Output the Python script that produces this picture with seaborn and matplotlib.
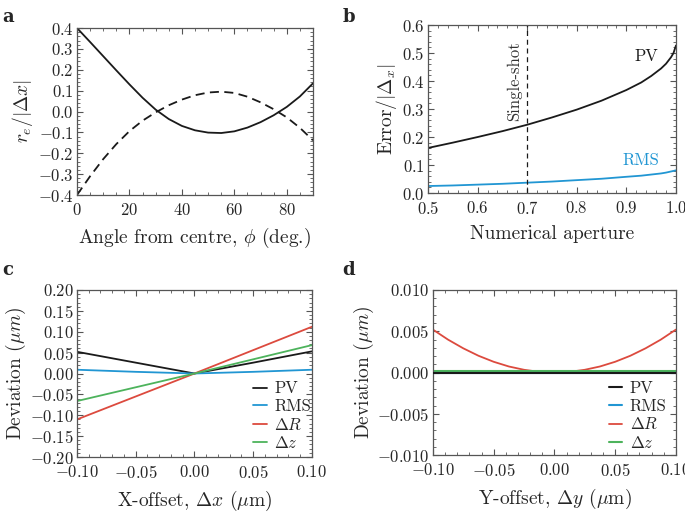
import matplotlib
matplotlib.use("Agg")
import matplotlib.pyplot as plt
from matplotlib.ticker import AutoMinorLocator, FuncFormatter
import numpy as np
import seaborn as sns

# panel a: r_e/|dx| vs angle
angle = [0, 5, 10, 15, 20, 25, 30, 35, 40, 45, 50, 55, 60, 65, 70, 75, 80, 85, 90]
re_solid = [0.40, 0.333, 0.265, 0.197, 0.130, 0.066, 0.009, -0.036, -0.069, -0.090,
            -0.101, -0.103, -0.095, -0.077, -0.051, -0.018, 0.022, 0.072, 0.135]
re_dashed = [-0.400, -0.310, -0.228, -0.156, -0.094, -0.044, -0.004, 0.030, 0.057, 0.078,
             0.091, 0.095, 0.089, 0.071, 0.044, 0.011, -0.028, -0.078, -0.138]

# panel b: error vs numerical aperture
na = [0.5, 0.55, 0.6, 0.65, 0.7, 0.75, 0.8, 0.85, 0.9, 0.93, 0.95, 0.97, 0.98, 0.99, 0.995, 1.0]
pv_na = [0.161, 0.180, 0.200, 0.221, 0.244, 0.270, 0.298, 0.330, 0.368, 0.395, 0.418,
         0.445, 0.462, 0.485, 0.500, 0.527]
rms_na = [0.025, 0.027, 0.030, 0.033, 0.037, 0.041, 0.046, 0.051, 0.058, 0.062, 0.066,
          0.070, 0.073, 0.077, 0.079, 0.081]

# panel c: x-offset
xoff = [-0.1, -0.05, 0.0, 0.05, 0.1]
pv_x = [0.052, 0.026, 0.0, 0.026, 0.053]
rms_x = [0.009, 0.004, 0.0, 0.004, 0.009]
dR_x = [-0.110, -0.055, 0.0, 0.056, 0.112]
dz_x = [-0.066, -0.033, 0.0, 0.034, 0.068]

# panel d: y-offset
yoff = [-0.1, -0.0875, -0.075, -0.0625, -0.05, -0.0375, -0.025, -0.0125, 0.0,
        0.0125, 0.025, 0.0375, 0.05, 0.0625, 0.075, 0.0875, 0.1]
pv_y = [0.0] * 17
rms_y = [-0.0001] * 17
dR_y = [0.0052, 0.00398, 0.00293, 0.00203, 0.0013, 0.00073, 0.00033, 0.00008, 0.0,
        0.00008, 0.00033, 0.00073, 0.0013, 0.00203, 0.00293, 0.00398, 0.0052]
dz_y = [0.0002] * 17

black = "#1a1a1a"
blue = "#2196d3"
red = "#dc4a3e"
green = "#4db35c"

sns.set_style("ticks")
plt.rcParams["font.family"] = "serif"
plt.rcParams["font.serif"] = ["cmr10", "DejaVu Serif"]
plt.rcParams["mathtext.fontset"] = "cm"

fig = plt.figure(figsize=(6.85, 5.12), dpi=100)
ax_a = fig.add_axes([0.1124, 0.6191, 0.3445, 0.3262])
ax_b = fig.add_axes([0.6248, 0.6230, 0.3620, 0.3280])
ax_c = fig.add_axes([0.1124, 0.1074, 0.3430, 0.3262])
ax_d = fig.add_axes([0.6320, 0.1113, 0.3547, 0.3223])

def fmt(nd):
    def f(v, pos):
        s = ("%." + str(nd) + "f") % v
        if s.startswith("-") and float(s) == 0:
            s = s[1:]
        return "$" + s + "$"
    return FuncFormatter(f)

def style(ax, xd, yd):
    for s in ax.spines.values():
        s.set_color("#555555")
        s.set_linewidth(0.9)
    ax.xaxis.set_major_formatter(fmt(xd))
    ax.yaxis.set_major_formatter(fmt(yd))
    ax.xaxis.set_minor_locator(AutoMinorLocator())
    ax.yaxis.set_minor_locator(AutoMinorLocator())
    ax.tick_params(which="both", direction="in", top=True, right=True, color="#555555",
                   labelsize=12)
    ax.tick_params(axis="y", pad=2.5)
    ax.tick_params(axis="x", pad=5)
    ax.tick_params(which="major", length=4, width=0.8)
    ax.tick_params(which="minor", length=2, width=0.6)

# a
sns.lineplot(x=angle, y=re_solid, ax=ax_a, color=black, lw=1.3)
sns.lineplot(x=angle, y=re_dashed, ax=ax_a, color=black, lw=1.3, linestyle=(0, (5, 3)))
ax_a.set_xlim(0, 90)
ax_a.set_ylim(-0.4, 0.4)
ax_a.set_xticks([0, 20, 40, 60, 80])
ax_a.set_yticks(np.arange(-0.4, 0.41, 0.1))
ax_a.set_xlabel(r"Angle from centre, $\phi$ (deg.)", fontsize=14, labelpad=6)
ax_a.set_ylabel(r"$r_e/|\Delta x|$", fontsize=14, labelpad=2)
style(ax_a, 0, 1)

# b
sns.lineplot(x=na, y=pv_na, ax=ax_b, color=black, lw=1.3)
sns.lineplot(x=na, y=rms_na, ax=ax_b, color=blue, lw=1.3)
ax_b.axvline(0.7, color=black, lw=0.9, linestyle=(0, (4, 3)))
ax_b.text(0.69, 0.40, "Single-shot", rotation=90, ha="right", va="center", fontsize=12,
          color="#333333")
ax_b.text(0.94, 0.49, "PV", ha="center", va="center", fontsize=12, color=black)
ax_b.text(0.93, 0.115, "RMS", ha="center", va="center", fontsize=12, color=blue)
ax_b.set_xlim(0.5, 1.0)
ax_b.set_ylim(0, 0.6)
ax_b.set_xticks([0.5, 0.6, 0.7, 0.8, 0.9, 1.0])
ax_b.set_yticks(np.arange(0, 0.61, 0.1))
ax_b.set_xlabel("Numerical aperture", fontsize=14, labelpad=6)
ax_b.set_ylabel(r"Error$/|\Delta_x|$", fontsize=14, labelpad=2)
style(ax_b, 1, 1)

leg_kw = dict(frameon=False, fontsize=12, handlelength=0.8, handletextpad=0.45,
              labelspacing=0.15, borderpad=0, borderaxespad=0, loc="lower left")

# c
sns.lineplot(x=xoff, y=pv_x, ax=ax_c, color=black, lw=1.3, label="PV")
sns.lineplot(x=xoff, y=rms_x, ax=ax_c, color=blue, lw=1.3, label="RMS")
sns.lineplot(x=xoff, y=dR_x, ax=ax_c, color=red, lw=1.3, label=r"$\Delta R$")
sns.lineplot(x=xoff, y=dz_x, ax=ax_c, color=green, lw=1.3, label=r"$\Delta z$")
ax_c.set_xlim(-0.1, 0.1)
ax_c.set_ylim(-0.2, 0.2)
ax_c.set_xticks([-0.1, -0.05, 0.0, 0.05, 0.1])
ax_c.set_yticks(np.arange(-0.2, 0.201, 0.05))
ax_c.set_xlabel(r"X-offset, $\Delta x$ ($\mu$m)", fontsize=14, labelpad=6)
ax_c.set_ylabel(r"Deviation ($\mu m$)", fontsize=14, labelpad=1)
ax_c.legend(bbox_to_anchor=(0.75, 0.035), **leg_kw)
style(ax_c, 2, 2)

# d
sns.lineplot(x=yoff, y=pv_y, ax=ax_d, color=black, lw=1.5, label="PV", zorder=4)
sns.lineplot(x=yoff, y=rms_y, ax=ax_d, color=blue, lw=1.5, label="RMS", zorder=3)
sns.lineplot(x=yoff, y=dR_y, ax=ax_d, color=red, lw=1.3, label=r"$\Delta R$")
sns.lineplot(x=yoff, y=dz_y, ax=ax_d, color=green, lw=1.5, label=r"$\Delta z$", zorder=2)
ax_d.set_xlim(-0.1, 0.1)
ax_d.set_ylim(-0.01, 0.01)
ax_d.set_xticks([-0.1, -0.05, 0.0, 0.05, 0.1])
ax_d.set_yticks([-0.01, -0.005, 0.0, 0.005, 0.01])
ax_d.set_xlabel(r"Y-offset, $\Delta y$ ($\mu$m)", fontsize=14, labelpad=6)
ax_d.set_ylabel(r"Deviation ($\mu m$)", fontsize=14, labelpad=1)
ax_d.legend(bbox_to_anchor=(0.725, 0.025), **leg_kw)
style(ax_d, 2, 3)

for lab, x, y in [("a", 0.004, 0.985), ("b", 0.500, 0.985), ("c", 0.004, 0.49), ("d", 0.500, 0.49)]:
    fig.text(x, y, lab, fontsize=13, fontweight="bold", family="DejaVu Serif",
             ha="left", va="top")

fig.savefig("out.png", dpi=100)
